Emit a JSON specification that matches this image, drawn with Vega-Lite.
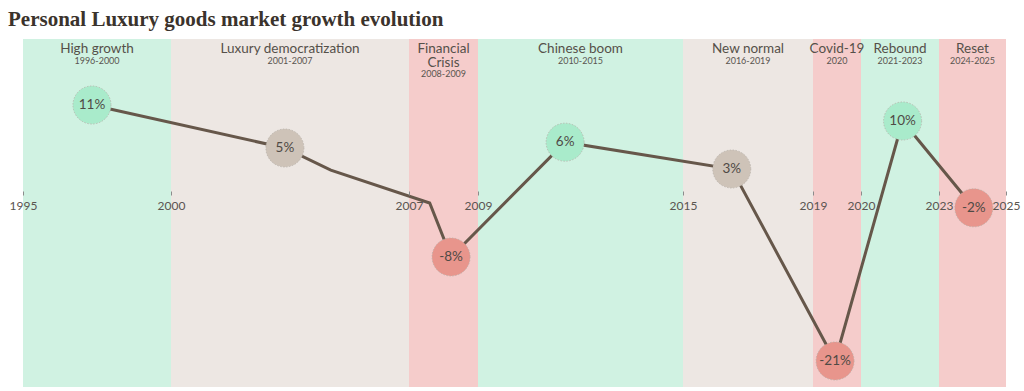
{
  "$schema": "https://vega.github.io/schema/vega-lite/v6.json",
  "width": 983,
  "height": 348,
  "autosize": "none",
  "padding": {"left": 23, "top": 39, "right": 18, "bottom": 4},
  "title": {
    "text": "Personal Luxury goods market growth evolution",
    "anchor": "start",
    "frame": "group",
    "font": "Liberation Serif",
    "fontSize": 21,
    "fontWeight": "bold",
    "color": "#3b332c",
    "dx": -15,
    "dy": 22,
    "offset": 14,
    "baseline": "alphabetic"
  },
  "datasets": {
    "bands": [
      {"start": 1995, "end": 2000, "mid": 1997.5, "label": "High growth", "years": "1996-2000", "phase": "growth"},
      {"start": 2000, "end": 2007, "mid": 2003.5, "label": "Luxury democratization", "years": "2001-2007", "phase": "steady"},
      {"start": 2007, "end": 2009, "mid": 2008, "label": ["Financial", "Crisis"], "years": "2008-2009", "phase": "decline"},
      {"start": 2009, "end": 2015, "mid": 2012, "label": "Chinese boom", "years": "2010-2015", "phase": "growth"},
      {"start": 2015, "end": 2019, "mid": 2017, "label": "New normal", "years": "2016-2019", "phase": "steady"},
      {"start": 2019, "end": 2020, "mid": 2019.5, "label": "Covid-19", "years": "2020", "phase": "decline"},
      {"start": 2020, "end": 2023, "mid": 2021.5, "label": "Rebound", "years": "2021-2023", "phase": "growth"},
      {"start": 2023, "end": 2025, "mid": 2024, "label": "Reset", "years": "2024-2025", "phase": "decline"}
    ],
    "growth": [
      {"year": 1997.33, "value": 11.25, "label": "11%", "phase": "growth"},
      {"year": 2003.35, "value": 5.875, "label": "5%", "phase": "steady"},
      {"year": 2008.22, "value": -7.75, "label": "-8%", "phase": "decline"},
      {"year": 2011.55, "value": 6.6, "label": "6%", "phase": "growth"},
      {"year": 2016.5, "value": 3.25, "label": "3%", "phase": "steady"},
      {"year": 2019.46, "value": -20.75, "label": "-21%", "phase": "decline"},
      {"year": 2021.6, "value": 9.25, "label": "10%", "phase": "growth"},
      {"year": 2024.04, "value": -1.6, "label": "-2%", "phase": "decline"}
    ],
    "path": [
      {"year": 1997.33, "value": 11.25},
      {"year": 2003.35, "value": 5.875},
      {"year": 2004.7, "value": 3.1},
      {"year": 2007.6, "value": -1.0},
      {"year": 2008.22, "value": -7.75},
      {"year": 2011.55, "value": 6.6},
      {"year": 2016.5, "value": 3.25},
      {"year": 2019.46, "value": -20.75},
      {"year": 2021.6, "value": 9.25},
      {"year": 2024.04, "value": -1.6}
    ]
  },
  "layer": [
    {
      "data": {"name": "bands"},
      "mark": {"type": "rect"},
      "encoding": {
        "x": {
          "field": "start",
          "type": "quantitative",
          "title": null,
          "scale": {
            "domain": [1995, 2000, 2007, 2009, 2015, 2019, 2020, 2023, 2025],
            "range": [0, 148, 386, 455, 660, 790, 838, 916, 983],
            "nice": false,
            "zero": false
          },
          "axis": {
            "values": [1995, 2000, 2007, 2009, 2015, 2019, 2020, 2023, 2025],
            "format": "d",
            "offset": -192,
            "zindex": 1,
            "domain": false,
            "grid": false,
            "ticks": true,
            "tickSize": -4,
            "tickColor": "#8c8c8c",
            "labelPadding": 9,
            "labelColor": "#5a5550",
            "labelFont": "Lato",
            "labelFontSize": 12,
            "labelOverlap": false,
            "labelFlush": false
          }
        },
        "x2": {"field": "end"},
        "color": {
          "field": "phase",
          "type": "nominal",
          "scale": {"domain": ["growth", "steady", "decline"], "range": ["#d0f2e2", "#ede7e3", "#f5cccb"]},
          "legend": null
        }
      }
    },
    {
      "data": {"name": "bands"},
      "mark": {"type": "text", "font": "Lato", "fontSize": 13.5, "color": "#555049", "baseline": "alphabetic", "align": "center", "dy": 14, "lineHeight": 14},
      "encoding": {
        "x": {"field": "mid", "type": "quantitative"},
        "y": {"datum": 19.5, "type": "quantitative", "scale": {"domain": [-24, 19.5], "nice": false, "zero": false}, "axis": null},
        "text": {"field": "label"}
      }
    },
    {
      "data": {"name": "bands"},
      "transform": [{"filter": "datum.years != '2008-2009'"}],
      "mark": {"type": "text", "font": "Lato", "fontSize": 9, "color": "#5a5550", "baseline": "alphabetic", "align": "center", "dy": 25},
      "encoding": {
        "x": {"field": "mid", "type": "quantitative"},
        "y": {"datum": 19.5, "type": "quantitative", "scale": {"domain": [-24, 19.5], "nice": false, "zero": false}, "axis": null},
        "text": {"field": "years"}
      }
    },
    {
      "data": {"name": "bands"},
      "transform": [{"filter": "datum.years == '2008-2009'"}],
      "mark": {"type": "text", "font": "Lato", "fontSize": 9, "color": "#5a5550", "baseline": "alphabetic", "align": "center", "dy": 38},
      "encoding": {
        "x": {"field": "mid", "type": "quantitative"},
        "y": {"datum": 19.5, "type": "quantitative", "scale": {"domain": [-24, 19.5], "nice": false, "zero": false}, "axis": null},
        "text": {"field": "years"}
      }
    },
    {
      "mark": {"type": "rule", "color": "#8c8c8c", "strokeWidth": 1},
      "encoding": {
        "y": {"datum": 0, "type": "quantitative", "scale": {"domain": [-24, 19.5], "nice": false, "zero": false}, "axis": null}
      }
    },
    {
      "data": {"name": "path"},
      "mark": {"type": "line", "color": "#66574a", "strokeWidth": 3},
      "encoding": {
        "x": {"field": "year", "type": "quantitative"},
        "y": {"field": "value", "type": "quantitative", "scale": {"domain": [-24, 19.5], "nice": false, "zero": false}, "axis": null}
      }
    },
    {
      "data": {"name": "growth"},
      "mark": {"type": "point", "shape": "circle", "filled": true, "size": 1450, "opacity": 1, "stroke": "#b3ada6", "strokeWidth": 0.7, "strokeDash": [1.5, 1.5]},
      "encoding": {
        "x": {"field": "year", "type": "quantitative"},
        "y": {"field": "value", "type": "quantitative", "scale": {"domain": [-24, 19.5], "nice": false, "zero": false}, "axis": null},
        "fill": {
          "field": "phase",
          "type": "nominal",
          "scale": {"domain": ["growth", "steady", "decline"], "range": ["#a9ebcb", "#cec3b8", "#e8958c"]},
          "legend": null
        }
      }
    },
    {
      "data": {"name": "growth"},
      "mark": {"type": "text", "font": "Lato", "fontSize": 13.5, "color": "#4f4a45", "align": "center", "baseline": "middle"},
      "encoding": {
        "x": {"field": "year", "type": "quantitative"},
        "y": {"field": "value", "type": "quantitative", "scale": {"domain": [-24, 19.5], "nice": false, "zero": false}, "axis": null},
        "text": {"field": "label"}
      }
    }
  ],
  "config": {"view": {"stroke": null}}
}
